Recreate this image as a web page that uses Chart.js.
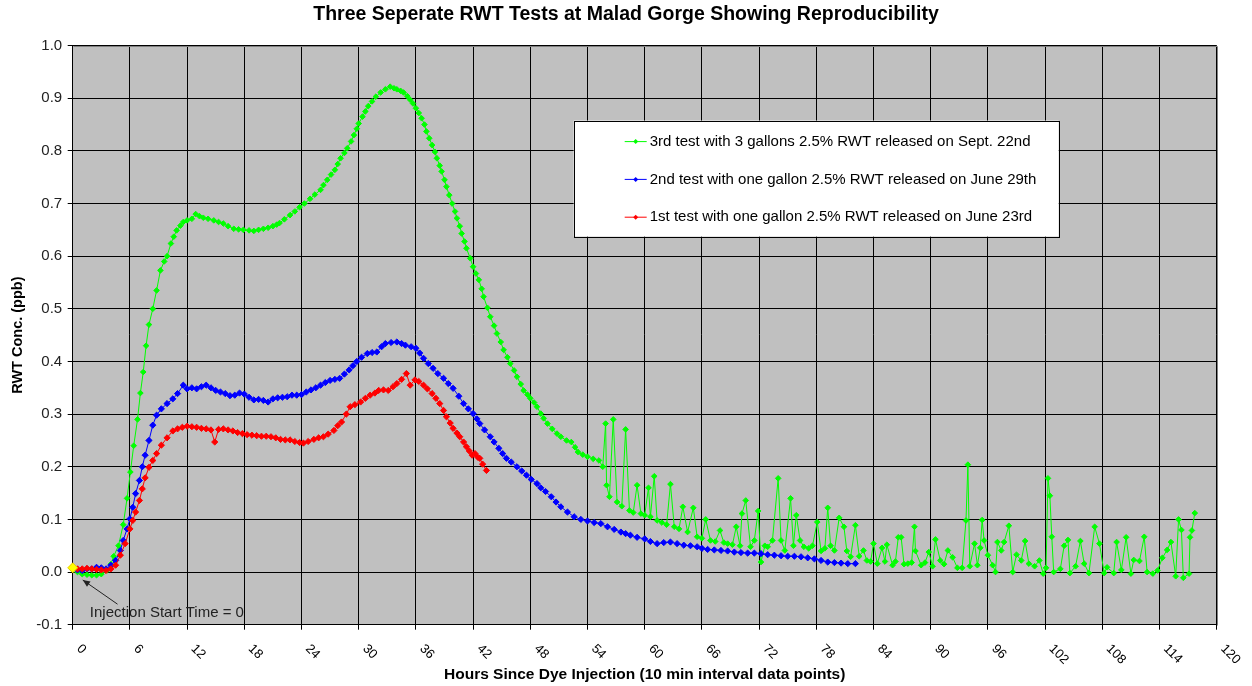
<!DOCTYPE html>
<html lang="en">
<head>
<meta charset="UTF-8">
<title>Three Seperate RWT Tests at Malad Gorge</title>
<script src="https://cdn.jsdelivr.net/npm/chart.js"></script>
<style>
  body { margin: 0; background: #fff; }
  #wrap { width: 1252px; height: 686px; }
</style>
</head>
<body>
<div id="wrap"><canvas id="rwtChart" width="1252" height="686"></canvas></div>
<script>
// hours since injection / RWT concentration (ppb)
const redHours = [0,0.5,1,1.5,2,2.5,3,3.5,4,4.5,
  5,5.5,6,6.3,6.6,7,7.3,7.6,8,8.4,
  8.8,9.3,9.9,10.5,11,11.5,12,12.5,13,13.5,
  14,14.5,14.9,15.3,15.8,16.3,16.8,17.3,17.8,18.3,
  18.8,19.3,19.8,20.3,20.8,21.3,21.8,22.3,22.8,23.3,
  23.8,24.2,24.7,25.3,25.8,26.3,26.8,27.4,27.8,28.2,
  28.7,29.1,29.6,30.2,30.7,31.2,31.7,32.1,32.6,33.1,
  33.6,34,34.5,35,35.4,35.9,36.3,36.8,37.2,37.7,
  38.1,38.5,38.9,39.2,39.6,39.9,40.3,40.6,41,41.3,
  41.6,41.9,42.2,42.5,42.7,43,43.4];
const redVals = [0.010,0.006,0.006,0.007,0.006,0.005,0.004,0.003,0.006,0.013,
  0.032,0.054,0.082,0.098,0.114,0.136,0.158,0.179,0.199,0.212,
  0.225,0.241,0.255,0.268,0.272,0.275,0.277,0.276,0.275,0.273,
  0.272,0.270,0.247,0.271,0.272,0.270,0.268,0.265,0.263,0.261,
  0.260,0.259,0.258,0.258,0.257,0.255,0.252,0.251,0.251,0.248,
  0.246,0.245,0.248,0.252,0.255,0.257,0.262,0.269,0.278,0.285,
  0.300,0.314,0.318,0.323,0.330,0.336,0.340,0.345,0.346,0.345,
  0.352,0.358,0.366,0.377,0.355,0.365,0.362,0.355,0.348,0.339,
  0.330,0.320,0.307,0.295,0.283,0.273,0.264,0.257,0.247,0.238,
  0.230,0.222,0.225,0.218,0.216,0.205,0.193];

const blueHours = [0,0.5,1,1.5,2,2.5,3,3.5,4,4.5,
  5,5.3,5.7,6,6.3,6.6,7,7.3,7.6,8,
  8.4,8.8,9.3,9.9,10.5,11,11.6,12,12.5,13,
  13.5,14,14.5,15,15.5,16,16.5,17,17.5,18,
  18.5,19,19.5,20,20.5,21,21.5,22,22.5,23,
  23.5,24,24.5,25,25.5,26,26.5,27,27.5,28,
  28.5,29,29.4,29.8,30.3,30.9,31.4,31.9,32.4,32.8,
  33.4,34,34.5,34.9,35.5,36,36.4,36.8,37.3,37.8,
  38.3,38.9,39.4,39.9,40.5,41,41.5,42,42.4,42.7,
  43.2,43.8,44.2,44.7,45.1,45.5,46,46.6,47.1,47.6,
  48.1,48.7,49.1,49.6,50.2,50.7,51.2,51.9,52.6,53.3,
  54,54.7,55.4,56.1,56.8,57.5,58,58.5,59.2,60,
  60.6,61.3,62,62.7,63.4,64.1,64.8,65.5,66,66.6,
  67.3,68,68.7,69.4,70.1,70.8,71.5,72.2,72.9,73.6,
  74.3,75,75.7,76.4,77.1,77.8,78.5,79.2,79.9,80.6,
  81.3,82.1];
const blueVals = [0.006,0.004,0.003,0.006,0.006,0.009,0.008,0.006,0.013,0.022,
  0.041,0.060,0.082,0.101,0.123,0.149,0.174,0.200,0.222,0.250,
  0.279,0.298,0.310,0.320,0.329,0.339,0.355,0.348,0.350,0.348,
  0.352,0.355,0.350,0.345,0.342,0.339,0.335,0.336,0.340,0.338,
  0.332,0.327,0.328,0.326,0.323,0.329,0.331,0.332,0.333,0.336,
  0.336,0.337,0.342,0.346,0.350,0.355,0.360,0.364,0.366,0.368,
  0.376,0.384,0.392,0.400,0.408,0.415,0.417,0.418,0.428,0.434,
  0.436,0.437,0.434,0.431,0.428,0.425,0.416,0.406,0.396,0.387,
  0.377,0.368,0.358,0.349,0.334,0.320,0.310,0.301,0.291,0.282,
  0.270,0.257,0.247,0.235,0.225,0.216,0.209,0.200,0.192,0.184,
  0.176,0.168,0.160,0.153,0.143,0.133,0.124,0.114,0.105,0.100,
  0.097,0.094,0.092,0.086,0.081,0.076,0.073,0.070,0.066,0.063,
  0.058,0.054,0.056,0.057,0.054,0.051,0.050,0.048,0.045,0.043,
  0.042,0.041,0.040,0.038,0.037,0.036,0.036,0.035,0.033,0.032,
  0.031,0.030,0.030,0.029,0.027,0.025,0.022,0.019,0.018,0.017,
  0.016,0.016];

const greenHours = [0,0.5,1,1.5,2,2.5,3,3.6,4,4.3,
  4.8,5.3,5.7,6.05,6.4,6.8,7.1,7.4,7.7,8,
  8.4,8.8,9.2,9.6,9.9,10.3,10.6,10.9,11.3,11.6,
  12,12.5,12.9,13.3,13.7,14.2,14.8,15.3,15.8,16.3,
  16.9,17.4,17.9,18.5,19,19.5,20,20.5,21,21.4,
  21.7,22.2,22.8,23.3,23.8,24.3,24.9,25.4,26,26.3,
  26.7,27.1,27.5,27.8,28.1,28.5,28.8,29.2,29.5,29.8,
  30,30.4,30.7,31,31.4,31.8,32.3,32.8,33.3,33.7,
  34,34.4,34.7,35.1,35.4,35.7,36,36.3,36.6,36.9,
  37.1,37.4,37.7,38,38.2,38.5,38.7,39,39.2,39.5,
  39.8,40.1,40.3,40.6,40.8,41.1,41.3,41.7,42,42.3,
  42.6,42.9,43.1,43.5,43.8,44.2,44.5,44.9,45.2,45.6,
  45.9,46.3,46.6,47,47.3,47.7,48,48.4,48.7,49.1,
  49.4,49.8,50.3,50.8,51.2,51.8,52.3,52.7,53,53.5,
  54,54.6,55.2,55.6,55.9,56,56.3,56.7,57.1,57.6,
  58,58.4,58.8,59.2,59.6,60,60.4,60.6,61,61.3,
  61.8,62.3,62.7,63.1,63.6,64,64.5,65.1,65.5,66,
  66.4,66.9,67.4,67.9,68.3,68.7,69.2,69.6,70,70.2,
  70.6,71.1,71.5,71.9,72.2,72.6,72.9,73.4,74,74.3,
  74.7,75.3,75.6,75.9,76.3,76.7,77.2,77.6,78.1,78.5,
  78.9,79.2,79.5,79.9,80.4,80.9,81.2,81.6,82.1,82.5,
  82.95,83.3,83.7,84,84.4,84.9,85.2,85.4,86,86.3,
  86.6,86.9,87.2,87.6,88,88.3,88.4,89,89.4,89.8,
  90.2,90.5,91,91.4,91.8,92.3,92.8,93.3,93.7,93.9,
  94.1,94.6,94.9,95.2,95.4,95.6,96,96.5,96.8,97,
  97.4,97.7,98.2,98.6,99,99.5,99.9,100.3,100.9,101.4,
  101.8,102.1,102.3,102.5,102.7,102.9,103.6,104,104.4,104.6,
  105.2,105.7,106.1,106.6,107.2,107.7,108.2,108.5,109.2,109.5,
  110,110.5,111,111.3,111.9,112.4,112.7,113.3,113.8,114.3,
  114.8,115.2,115.7,116,116.3,116.5,117.1,117.2,117.4,117.7];
const greenVals = [0.005,0.000,-0.004,-0.005,-0.006,-0.006,-0.004,0.003,0.015,0.030,
  0.050,0.090,0.140,0.190,0.240,0.290,0.340,0.380,0.430,0.470,
  0.500,0.535,0.573,0.590,0.600,0.624,0.637,0.649,0.658,0.665,
  0.668,0.671,0.680,0.676,0.673,0.671,0.668,0.665,0.662,0.657,
  0.652,0.651,0.650,0.649,0.648,0.650,0.652,0.654,0.657,0.660,
  0.663,0.670,0.678,0.685,0.693,0.700,0.709,0.717,0.726,0.735,
  0.745,0.755,0.764,0.775,0.786,0.796,0.805,0.818,0.830,0.842,
  0.852,0.865,0.875,0.885,0.894,0.903,0.911,0.917,0.922,0.919,
  0.917,0.914,0.911,0.904,0.897,0.890,0.881,0.872,0.862,0.850,
  0.837,0.824,0.811,0.798,0.786,0.772,0.761,0.745,0.732,0.716,
  0.700,0.685,0.672,0.657,0.643,0.628,0.615,0.596,0.580,0.567,
  0.555,0.538,0.523,0.502,0.485,0.468,0.453,0.437,0.422,0.408,
  0.396,0.383,0.371,0.357,0.345,0.337,0.330,0.322,0.314,0.301,
  0.292,0.282,0.272,0.263,0.257,0.250,0.247,0.237,0.228,0.223,
  0.219,0.215,0.212,0.200,0.282,0.165,0.143,0.290,0.133,0.125,
  0.271,0.117,0.113,0.165,0.111,0.108,0.160,0.105,0.182,0.098,
  0.094,0.090,0.167,0.086,0.082,0.124,0.076,0.122,0.067,0.064,
  0.100,0.060,0.058,0.079,0.056,0.054,0.052,0.086,0.050,0.111,
  0.136,0.048,0.060,0.116,0.019,0.050,0.048,0.060,0.178,0.060,
  0.041,0.140,0.050,0.108,0.060,0.048,0.045,0.050,0.095,0.040,
  0.045,0.122,0.050,0.041,0.103,0.086,0.040,0.029,0.089,0.030,
  0.041,0.022,0.020,0.054,0.016,0.046,0.020,0.052,0.013,0.020,
  0.066,0.066,0.015,0.016,0.018,0.086,0.040,0.013,0.018,0.038,
  0.011,0.062,0.022,0.015,0.041,0.028,0.008,0.008,0.098,0.204,
  0.011,0.054,0.013,0.046,0.099,0.060,0.032,0.013,0.000,0.057,
  0.041,0.057,0.088,0.000,0.033,0.022,0.059,0.016,0.011,0.022,
  -0.003,0.008,0.178,0.145,0.067,0.000,0.006,0.050,0.061,-0.002,
  0.011,0.059,0.016,-0.002,0.086,0.054,-0.002,0.009,-0.002,0.057,
  0.004,0.066,-0.003,0.023,0.021,0.067,0.000,-0.003,0.003,0.027,
  0.042,0.057,-0.008,0.100,0.080,-0.011,-0.003,0.066,0.079,0.112];

const startHours = [0];
const startVals = [0.008];

const seriesLabels = [
  '3rd test with 3 gallons 2.5% RWT released on Sept. 22nd',
  '2nd test with one gallon 2.5% RWT released on June 29th',
  '1st test with one gallon 2.5% RWT released on June 23rd'
];
const noteText = 'Injection Start Time = 0';
const notePos = { x: 1.8, y: -0.078 };
const arrowFrom = { x: 4.7, y: -0.061 };
const arrowTo = { x: 1.05, y: -0.015 };

const FONT = '"Liberation Sans", Arial, sans-serif';
const GREEN = '#00ff00', BLUE = '#0000ff', RED = '#ff0000';

const toXY = (hours, vals) => hours.map((h, i) => ({ x: h, y: vals[i] }));

function makeSet(label, color, hours, vals, radius) {
    return {
        label: label,
        data: toXY(hours, vals),
        borderColor: color,
        backgroundColor: color,
        borderWidth: 1,
        pointStyle: 'rectRot',
        pointRadius: radius,
        pointBorderWidth: 1,
        clip: false
    };
}

// grey plot area plus the lighter frame on top/right
const plotFrame = {
    id: 'plotFrame',
    beforeDraw(chart) {
        const { ctx, chartArea: a } = chart;
        ctx.save();
        ctx.fillStyle = '#c0c0c0';
        ctx.fillRect(a.left, a.top, a.right - a.left, a.bottom - a.top);
        ctx.restore();
    },
    beforeDatasetsDraw(chart) {
        const { ctx, chartArea: a } = chart;
        ctx.save();
        ctx.strokeStyle = '#808080';
        ctx.lineWidth = 1;
        ctx.beginPath();
        ctx.moveTo(Math.round(a.left) + 0.5, Math.round(a.top) + 0.5);
        ctx.lineTo(Math.round(a.right) + 0.5, Math.round(a.top) + 0.5);
        ctx.lineTo(Math.round(a.right) + 0.5, Math.round(a.bottom) + 0.5);
        ctx.stroke();
        ctx.restore();
    }
};

// x tick labels are slanted downward (clockwise), which chart.js can't do itself
const slantedTicks = {
    id: 'slantedTicks',
    afterDraw(chart) {
        const { ctx } = chart;
        const x = chart.scales.x;
        ctx.save();
        ctx.font = '13px ' + FONT;
        ctx.fillStyle = '#000';
        ctx.textAlign = 'left';
        ctx.textBaseline = 'middle';
        x.ticks.forEach(t => {
            const px = x.getPixelForValue(t.value);
            ctx.save();
            ctx.translate(px + 6, x.top + 22);
            ctx.rotate(Math.PI / 4);
            ctx.fillText(String(t.value), 0, 0);
            ctx.restore();
        });
        ctx.restore();
    }
};

const injectionNote = {
    id: 'injectionNote',
    afterDatasetsDraw(chart) {
        const { ctx } = chart;
        const { x, y } = chart.scales;
        const x1 = x.getPixelForValue(arrowFrom.x), y1 = y.getPixelForValue(arrowFrom.y);
        const x2 = x.getPixelForValue(arrowTo.x), y2 = y.getPixelForValue(arrowTo.y);
        const ang = Math.atan2(y2 - y1, x2 - x1);
        ctx.save();
        ctx.strokeStyle = '#222';
        ctx.fillStyle = '#222';
        ctx.lineWidth = 1;
        ctx.beginPath();
        ctx.moveTo(x1, y1);
        ctx.lineTo(x2, y2);
        ctx.stroke();
        ctx.beginPath();
        ctx.moveTo(x2, y2);
        ctx.lineTo(x2 - 8 * Math.cos(ang - 0.4), y2 - 8 * Math.sin(ang - 0.4));
        ctx.lineTo(x2 - 8 * Math.cos(ang + 0.4), y2 - 8 * Math.sin(ang + 0.4));
        ctx.closePath();
        ctx.fill();
        ctx.font = '15px ' + FONT;
        ctx.textAlign = 'left';
        ctx.textBaseline = 'middle';
        ctx.fillText(noteText, x.getPixelForValue(notePos.x), y.getPixelForValue(notePos.y));
        ctx.restore();
    }
};

// boxed legend sitting inside the plot area
const boxLegend = {
    id: 'boxLegend',
    afterDraw(chart) {
        const { ctx, chartArea: a } = chart;
        const left = a.left + 501, top = a.top + 75, w = 485, h = 116;
        ctx.save();
        ctx.fillStyle = '#fff';
        ctx.fillRect(left, top, w, h);
        ctx.strokeStyle = '#000';
        ctx.lineWidth = 1;
        ctx.strokeRect(Math.round(left) + 0.5, Math.round(top) + 0.5, w, h);
        ctx.font = '15px ' + FONT;
        ctx.textBaseline = 'middle';
        ctx.textAlign = 'left';
        const colors = [GREEN, BLUE, RED];
        seriesLabels.forEach((label, i) => {
            const cy = top + 21 + i * 37.8;
            ctx.strokeStyle = colors[i];
            ctx.fillStyle = colors[i];
            ctx.beginPath();
            ctx.moveTo(left + 51, cy);
            ctx.lineTo(left + 73, cy);
            ctx.stroke();
            ctx.beginPath();
            ctx.moveTo(left + 62, cy - 2.5);
            ctx.lineTo(left + 64.5, cy);
            ctx.lineTo(left + 62, cy + 2.5);
            ctx.lineTo(left + 59.5, cy);
            ctx.closePath();
            ctx.fill();
            ctx.fillStyle = '#000';
            ctx.fillText(label, left + 76, cy);
        });
        ctx.restore();
    }
};

const ctx = document.getElementById('rwtChart').getContext('2d');
const rwtChart = new Chart(ctx, {
    type: 'line',
    data: {
        datasets: [
            {
                label: 'start',
                data: toXY(startHours, startVals),
                showLine: false,
                pointStyle: 'rectRot',
                pointRadius: 5,
                backgroundColor: '#ffff00',
                borderColor: '#e8d000',
                pointBorderWidth: 1,
                clip: false
            },
            makeSet(seriesLabels[2], RED, redHours, redVals, 3.1),
            makeSet(seriesLabels[1], BLUE, blueHours, blueVals, 3.1),
            makeSet(seriesLabels[0], GREEN, greenHours, greenVals, 2.8)
        ]
    },
    options: {
        responsive: false,
        animation: false,
        events: [],
        layout: { padding: 0 },
        scales: {
            x: {
                type: 'linear',
                min: 0,
                max: 120,
                afterFit(s) { s.height = 61.3; },
                ticks: { stepSize: 6, display: false },
                grid: { color: '#000', lineWidth: 1, tickLength: 5 },
                border: { color: '#000' },
                title: {
                    display: true,
                    text: 'Hours Since Dye Injection (10 min interval data points)',
                    color: '#000',
                    font: { family: FONT, size: 15.5, weight: 'bold' },
                    padding: { top: 0, bottom: 1.7 }
                }
            },
            y: {
                min: -0.1,
                max: 1.0,
                afterFit(s) { s.width = 72.7; },
                ticks: {
                    stepSize: 0.1,
                    padding: 5.5,
                    color: '#222',
                    font: { family: FONT, size: 15 },
                    callback: v => (Math.abs(v) < 1e-9 ? 0 : v).toFixed(1)
                },
                grid: { color: '#000', lineWidth: 1, tickLength: 5 },
                border: { color: '#000' },
                title: {
                    display: true,
                    text: 'RWT Conc. (ppb)',
                    color: '#000',
                    font: { family: FONT, size: 14.5, weight: 'bold' },
                    padding: { top: 9.3, bottom: 0 }
                }
            },
            // empty right-hand gutter so the title stays centred on the page
            gutter: {
                position: 'right',
                afterFit(s) { s.width = 35.3; },
                ticks: { display: false },
                grid: { display: false },
                border: { display: false }
            }
        },
        plugins: {
            legend: { display: false },
            tooltip: { enabled: false },
            title: {
                display: true,
                text: 'Three Seperate RWT Tests at Malad Gorge Showing Reproducibility',
                color: '#000',
                font: { family: FONT, size: 19.5, weight: 'bold' },
                padding: { top: 3.3, bottom: 18.9 }
            }
        }
    },
    plugins: [plotFrame, injectionNote, slantedTicks, boxLegend]
});
</script>
</body>
</html>
